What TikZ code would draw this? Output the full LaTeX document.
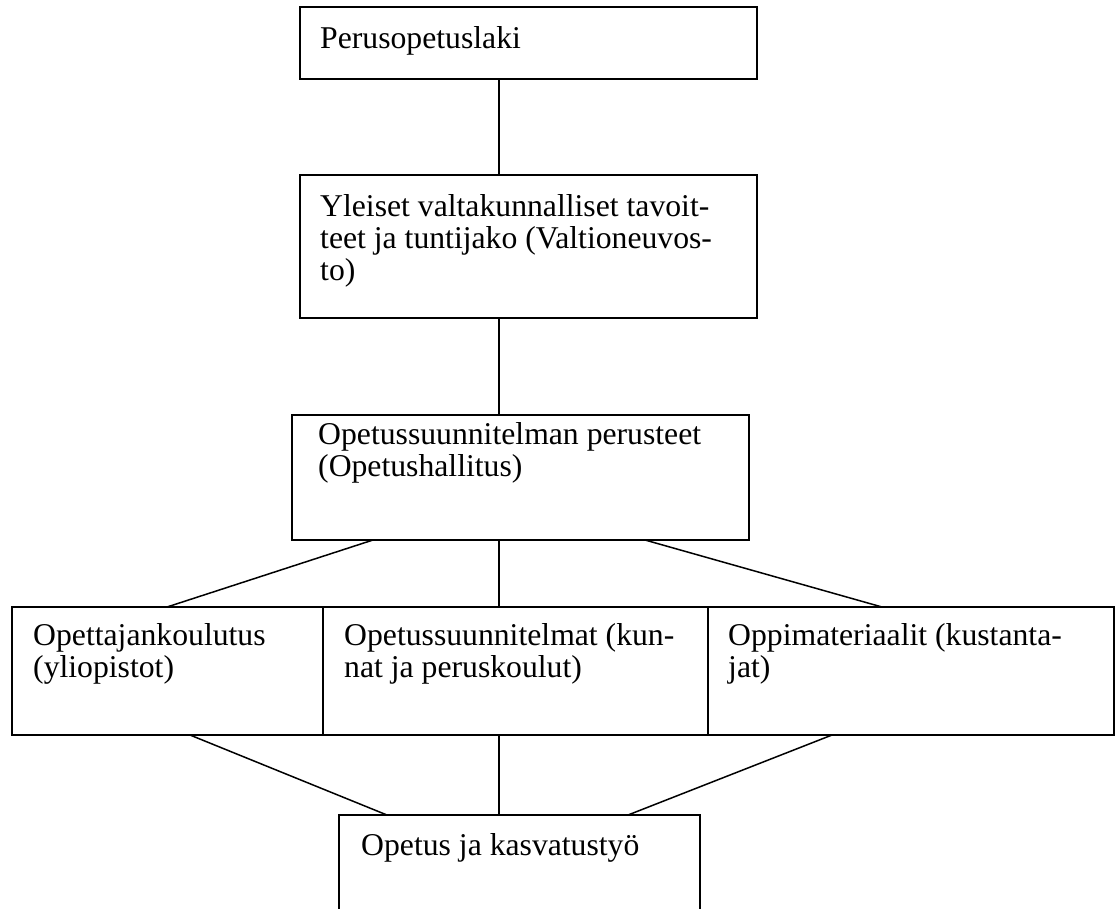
\documentclass[tikz,border=0pt]{standalone}
\usepackage{fontspec}
\setmainfont{Liberation Serif}
\begin{document}
\begin{tikzpicture}[x=1pt,y=-1pt,
  box/.style={draw,line width=1.5pt,rectangle,inner sep=0pt,outer sep=0pt,anchor=north west},
  lbl/.style={anchor=base west,inner sep=0pt,font=\fontsize{31.7}{32}\selectfont},
  conn/.style={line width=1.5pt}]
\useasboundingbox (0,0) rectangle (1115,908);
\node[box,minimum width=457pt,minimum height=72pt] (b1) at (300,7) {};
\node[box,minimum width=457pt,minimum height=143pt] (b2) at (300,175) {};
\node[box,minimum width=457pt,minimum height=125pt] (b3) at (292,415) {};
\node[box,minimum width=311pt,minimum height=128pt] (r1) at (12,607) {};
\node[box,minimum width=385pt,minimum height=128pt] (r2) at (323,607) {};
\node[box,minimum width=406pt,minimum height=128pt] (r3) at (708,607) {};
\node[box,minimum width=361pt,minimum height=120pt] (b4) at (339,815) {};
\node[lbl] (t1) at (320,48) {Perusopetuslaki};
\node[lbl] (t2a) at (320,216) {Yleiset valtakunnalliset tavoit-};
\node[lbl] (t2b) at (320,248) {teet ja tuntijako (Valtioneuvos-};
\node[lbl] (t2c) at (320,280) {to)};
\node[lbl] (t3a) at (318,444) {Opetussuunnitelman perusteet};
\node[lbl] (t3b) at (318,476) {(Opetushallitus)};
\node[lbl] (t4a) at (33,645) {Opettajankoulutus};
\node[lbl] (t4b) at (33,677) {(yliopistot)};
\node[lbl] (t5a) at (344,645) {Opetussuunnitelmat (kun-};
\node[lbl] (t5b) at (344,677) {nat ja peruskoulut)};
\node[lbl] (t6a) at (728,645) {Oppimateriaalit (kustanta-};
\node[lbl] (t6b) at (728,677) {jat)};
\node[lbl] (t7) at (361,855) {Opetus ja kasvatustyö};
\draw[conn] (499,0 |- b1.south) -- (499,0 |- b2.north);
\draw[conn] (499,0 |- b2.south) -- (499,0 |- b3.north);
\draw[conn] (373,0 |- b3.south) -- (167,0 |- r1.north);
\draw[conn] (499,0 |- b3.south) -- (499,0 |- r2.north);
\draw[conn] (645,0 |- b3.south) -- (882,0 |- r3.north);
\draw[conn] (190,0 |- r1.south) -- (387,0 |- b4.north);
\draw[conn] (499,0 |- r2.south) -- (499,0 |- b4.north);
\draw[conn] (832,0 |- r3.south) -- (628,0 |- b4.north);
\end{tikzpicture}
\end{document}
